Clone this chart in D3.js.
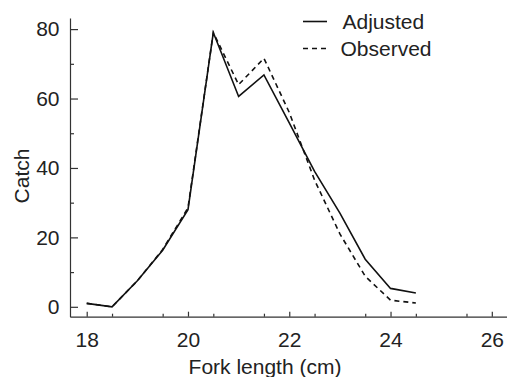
<!DOCTYPE html>
<html>
<head>
<meta charset="utf-8">
<script src="https://cdn.jsdelivr.net/npm/d3@7"></script>
<style>
  body { margin: 0; background: #fff; }
  svg { display: block; font-family: "Liberation Sans", Arial, Helvetica, sans-serif; }
  .axis text { font-size: 21px; fill: #222; }
  .axis path, .axis line { stroke: #333; stroke-width: 1.2; }
</style>
</head>
<body>
<div class="chart"></div>
<script>
const forkLength = [18, 18.5, 19, 19.5, 20, 20.5, 21, 21.5, 22, 22.5, 23, 23.5, 24, 24.5];
const adjusted = [1, 0, 7.5, 16.3, 28, 79, 60.6, 66.8, 53, 39, 27, 13.7, 5.3, 4];
const observed = [1, 0, 7.5, 16.5, 28.5, 79, 64, 71.6, 56, 36.5, 21, 8.8, 1.9, 1.1];
const xTicks = [18, 20, 22, 24, 26];
const yTicks = [0, 20, 40, 60, 80];
const seriesNames = ['Adjusted', 'Observed'];

const width = 507;
const height = 377;

const x = d3.scaleLinear().domain([17.67, 26.3]).range([70, 507]);
const y = d3.scaleLinear().domain([-2.85, 83.2]).range([316.7, 18]);

const svg = d3.select('.chart')
  .append('svg')
  .attr('width', width)
  .attr('height', height);

// x axis, ticks point up into the plot
svg.append('g')
  .attr('class', 'axis x-axis')
  .attr('transform', `translate(0, ${ y.range()[0] })`)
  .call(d3.axisBottom(x).tickValues(xTicks).tickSizeInner(-5).tickSizeOuter(0).tickPadding(15).tickFormat(d => d + ''));

svg.append('g')
  .attr('class', 'axis x-axis')
  .attr('transform', `translate(0, ${ y.range()[0] })`)
  .call(d3.axisBottom(x).tickValues(d3.range(18.5, 26, 1)).tickSizeInner(-3).tickSizeOuter(0).tickFormat(''))
  .select('.domain').remove();

// y axis, ticks point right
svg.append('g')
  .attr('class', 'axis y-axis')
  .attr('transform', `translate(${ x.range()[0] }, 0)`)
  .call(d3.axisLeft(y).tickValues(yTicks).tickSizeInner(-8).tickSizeOuter(0).tickPadding(10.5).tickFormat(d => d + ''));

svg.append('g')
  .attr('class', 'axis y-axis')
  .attr('transform', `translate(${ x.range()[0] }, 0)`)
  .call(d3.axisLeft(y).tickValues(d3.range(10, 80, 20)).tickSizeInner(-4).tickSizeOuter(0).tickFormat(''))
  .select('.domain').remove();

// axis titles
svg.append('text')
  .attr('x', 265)
  .attr('y', 374)
  .attr('text-anchor', 'middle')
  .attr('font-size', 21)
  .attr('fill', '#222')
  .text('Fork length (cm)');

svg.append('text')
  .attr('transform', 'translate(28.5, 176) rotate(-90)')
  .attr('text-anchor', 'middle')
  .attr('font-size', 21)
  .attr('fill', '#222')
  .text('Catch');

const line = d3.line()
  .x((d, i) => x(forkLength[i]))
  .y(d => y(d));

const styles = [null, '5,4'];
[adjusted, observed].forEach((vals, k) => {
  svg.append('path')
    .datum(vals)
    .attr('fill', 'none')
    .attr('stroke', '#111')
    .attr('stroke-width', 1.6)
    .attr('stroke-dasharray', styles[k])
    .attr('d', line);
});

// legend
const legend = svg.append('g').attr('transform', 'translate(303, 21.5)');
seriesNames.forEach((name, k) => {
  const g = legend.append('g').attr('transform', `translate(0, ${ k * 27 })`);
  g.append('line')
    .attr('x1', 0).attr('x2', 24)
    .attr('stroke', '#111')
    .attr('stroke-width', 1.6)
    .attr('stroke-dasharray', styles[k]);
  g.append('text')
    .attr('x', k === 0 ? 39.5 : 37.5)
    .attr('y', 7)
    .attr('font-size', 21)
    .attr('fill', '#222')
    .text(name);
});
</script>
</body>
</html>
